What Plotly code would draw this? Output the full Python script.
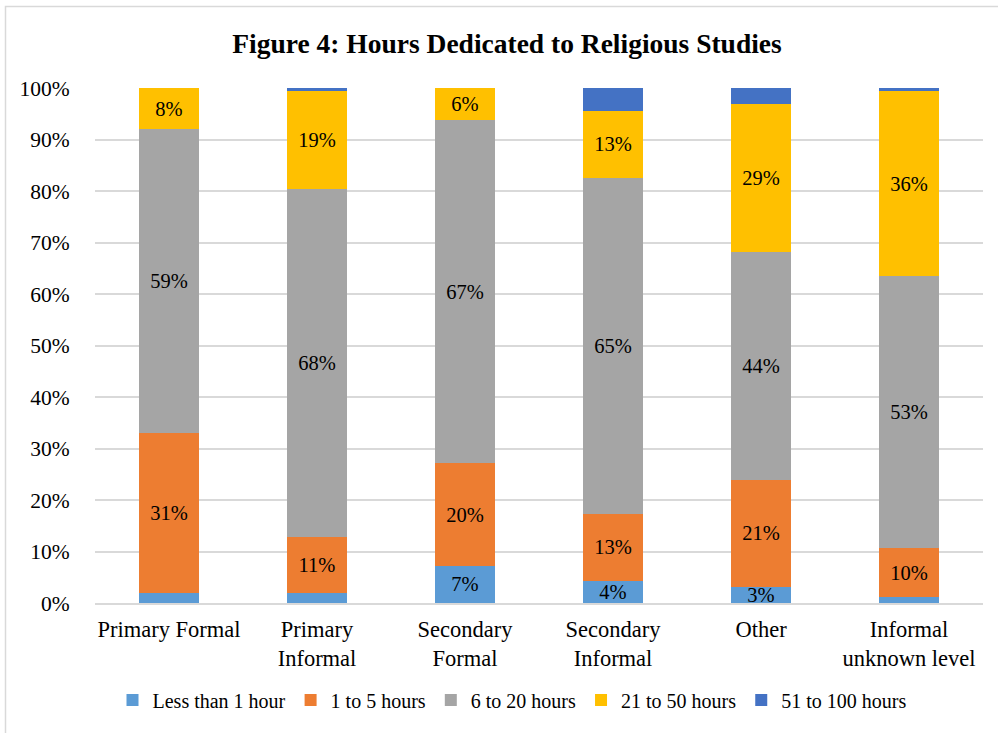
import plotly.graph_objects as go

categories = ["Primary Formal", "Primary<br>Informal", "Secondary<br>Formal",
              "Secondary<br>Informal", "Other", "Informal<br>unknown level"]

series_names = ["Less than 1 hour", "1 to 5 hours", "6 to 20 hours",
                "21 to 50 hours", "51 to 100 hours"]

less_than_1 = [2.0, 1.9, 7.2, 4.3, 3.2, 1.1]
one_to_5 = [31.1, 10.9, 19.9, 13.0, 20.6, 9.6]
six_to_20 = [58.9, 67.5, 66.6, 65.3, 44.4, 52.8]
twentyone_to_50 = [8.0, 19.1, 6.3, 12.9, 28.6, 35.9]
fiftyone_to_100 = [0.0, 0.6, 0.0, 4.5, 3.2, 0.6]

# which data labels are shown in the original
show_labels = [
    [False, False, True, True, True, False],
    [True] * 6,
    [True] * 6,
    [True] * 6,
    [False] * 6,
]

colors = ["#5B9BD5", "#ED7D31", "#A5A5A5", "#FFC000", "#4472C4"]
values = [less_than_1, one_to_5, six_to_20, twentyone_to_50, fiftyone_to_100]

FONT = "Liberation Serif, Times New Roman, serif"

fig = go.Figure()
for name, vals, col, shows in zip(series_names, values, colors, show_labels):
    texts = [f"{round(v)}%" if s else "" for v, s in zip(vals, shows)]
    fig.add_trace(go.Bar(
        x=categories, y=vals, name=name,
        marker=dict(color=col, line=dict(width=0)),
        text=texts, textposition="inside", insidetextanchor="middle",
        textfont=dict(family=FONT, size=20.5, color="#000000"),
        constraintext="none", cliponaxis=False,
        hoverinfo="x+y+name",
    ))

W, H = 998, 733
L, R, T, B = 95, 15, 88, 130
pw, ph = W - L - R, H - T - B

def px_to_paper_x(px):
    return (px - L) / pw

def px_to_paper_y(py):
    return (H - B - py) / ph

fig.update_layout(
    barmode="stack",
    bargap=0.6,
    width=W, height=H,
    margin=dict(l=L, r=R, t=T, b=B, autoexpand=False),
    paper_bgcolor="white", plot_bgcolor="white",
    font=dict(family=FONT, color="#000000"),
    title=dict(text="<b>Figure 4: Hours Dedicated to Religious Studies</b>",
               x=507 / W, xref="container", xanchor="center",
               y=1 - 43 / H, yref="container", yanchor="middle",
               font=dict(family=FONT, size=27.5, color="#000000")),
    showlegend=True,
    legend=dict(orientation="h", x=px_to_paper_x(512), xanchor="center", xref="paper",
                y=px_to_paper_y(700), yanchor="middle",
                font=dict(family=FONT, size=20, color="#000000"),
                itemwidth=30, traceorder="normal"),
    uniformtext=dict(mode="show", minsize=20),
    shapes=[dict(type="rect", xref="paper", yref="paper",
                 x0=px_to_paper_x(5.5), x1=px_to_paper_x(1010),
                 y0=px_to_paper_y(745), y1=px_to_paper_y(6.5),
                 line=dict(color="#D9D9D9", width=1.5), layer="below")],
)

fig.update_yaxes(range=[0, 100], dtick=10, ticksuffix="%",
                 showgrid=True, gridcolor="#D9D9D9", gridwidth=1.5,
                 zeroline=False, showline=False,
                 ticks="outside", ticklen=20, tickcolor="rgba(0,0,0,0)",
                 tickfont=dict(family=FONT, size=21.5, color="#000000"),
                 fixedrange=True)
fig.update_xaxes(showline=True, linecolor="#D9D9D9", linewidth=1.5,
                 ticks="outside", ticklen=5, tickcolor="rgba(0,0,0,0)",
                 tickfont=dict(family=FONT, size=22.5, color="#000000"),
                 fixedrange=True)

fig.write_html("out.html")
